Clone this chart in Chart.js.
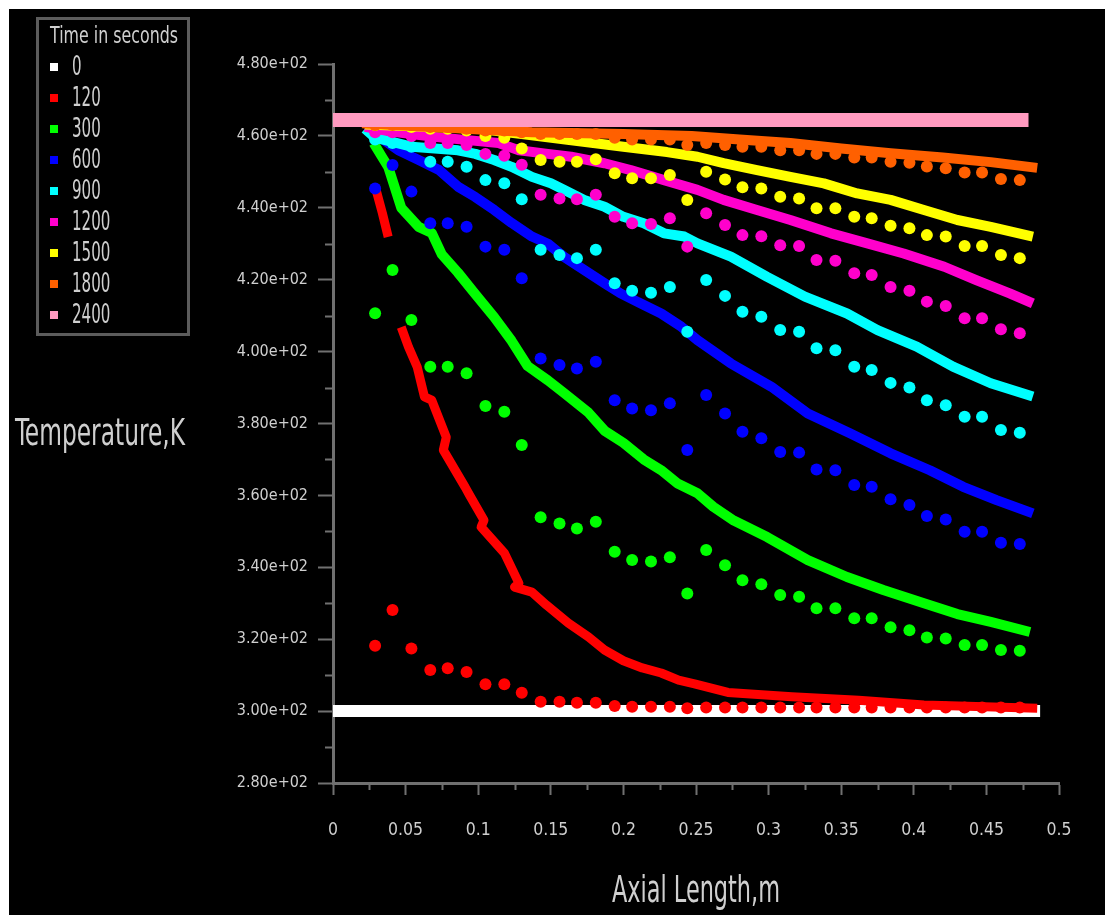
<!DOCTYPE html>
<html><head><meta charset="utf-8">
<script src="https://cdn.jsdelivr.net/npm/chart.js@4.4.1/dist/chart.umd.min.js"></script>
<style>
html,body{margin:0;padding:0;background:#fff;}
#wrap{position:absolute;left:9px;top:9px;width:1096px;height:906px;background:#000;}
canvas{display:block;}
</style></head><body>
<div id="wrap"><canvas id="c" width="1096" height="906"></canvas></div>
<script>
const timeLabels = ['0','120','300','600','900','1200','1500','1800','2400'];
const seriesColors = ['#ffffff','#ff0000','#00ff00','#0000ff','#00ffff','#ff00cc','#ffff00','#ff6000','#ff9ac0'];
const xTickLabels = ['0','0.05','0.1','0.15','0.2','0.25','0.3','0.35','0.4','0.45','0.5'];
const yTickLabels = ['2.80e+02','3.00e+02','3.20e+02','3.40e+02','3.60e+02','3.80e+02','4.00e+02','4.20e+02','4.40e+02','4.60e+02','4.80e+02'];

// sparse (dotted) branch: shared axial positions
const sparseX = [0.029,0.041,0.054,0.067,0.079,0.092,0.105,0.118,0.130,0.143,0.156,0.168,0.181,0.194,0.206,0.219,0.232,0.244,0.257,0.270,0.282,0.295,0.308,0.321,0.333,0.346,0.359,0.371,0.384,0.397,0.409,0.422,0.435,0.447,0.460,0.473];
const sparse120 = [318.2,328.1,317.4,311.4,311.9,310.9,307.5,307.5,305.1,302.6,302.6,302.3,302.3,301.4,301.2,301.2,301.2,300.8,301,301,301,301,301,301,301,301,301,301,301,301,301,301,301,301,301,301];
const sparse300 = [410.7,422.7,408.8,395.8,395.8,394,384.9,383.3,374,353.9,352.2,350.8,352.7,344.3,342,341.6,342.8,332.7,344.8,340.6,336.4,335.3,332.3,331.8,328.6,328.6,325.8,325.8,323.3,322.5,320.5,320.2,318.4,318.4,317,316.8];
const sparse600 = [445.4,451.9,444.5,435.7,435.7,434.7,429.2,428.3,420.4,398.1,396.3,395.3,397.2,386.5,384.2,383.7,385.6,372.6,387.9,382.8,377.7,375.9,372.1,371.9,367.2,367,362.9,362.4,358.9,357.3,354.3,353.3,349.9,349.9,346.8,346.5];
const sparse900 = [459,458,457,452.8,452.8,451.4,447.7,446.8,442.4,428.3,426.9,426,428.3,419,416.9,416.4,418,405.5,419.9,415.5,411.1,409.7,406,405.5,400.9,400.4,395.8,394.9,391.3,390,386.5,385.1,381.9,381.9,378.2,377.4];
const sparse1200 = [461,461,460,458,458,457.5,455,454.5,452,443.6,442.6,442.4,443.6,437.5,435.7,435.5,437.1,429.2,438.5,435.2,432.4,432.1,429.6,429.4,425.5,425.3,421.8,421.3,418,416.9,413.9,412.7,409.3,409.3,406.2,405.1];
const sparse1500 = [463,463,462.5,462,462,461.5,460,459.5,456.5,453.3,452.8,452.8,453.5,449.6,448.2,448.2,449.1,442.2,450,447.9,445.7,445.4,443.1,442.6,439.9,439.9,437.5,437.1,435,434.3,432.4,432,429.4,429.4,426.9,426];
const sparse1800 = [463,463,463,462.5,462.5,462,461.5,461.5,461,460.5,460.5,460.5,460.5,459.5,459,459,459,457.5,458,457.5,457,457,456,456,455,455,454,454,452.8,452.5,451.5,451,449.8,449.8,448,447.7];

// dense (band) branch: [axial length, temperature]
const dense0 = [[0,300],[0.487,300]];
const dense120 = [[0.029,446],[0.034,438.5],[0.038,431.9],[0.042,null],[0.047,406.8],[0.052,401.3],[0.058,395.7],[0.063,387.4],[0.068,386.5],[0.078,376.2],[0.076,372.6],[0.091,362.3],[0.094,360.1],[0.104,353.1],[0.102,351.2],[0.118,344],[0.128,335.6],[0.125,334.5],[0.137,333.1],[0.147,329.5],[0.162,324.5],[0.176,320.6],[0.187,317],[0.200,314],[0.213,312],[0.226,310.6],[0.238,308.6],[0.249,307.6],[0.272,305.2],[0.316,304],[0.362,303],[0.407,301.7],[0.485,300.8]];
const dense300 = [[0.028,458],[0.034,454],[0.038,451.4],[0.047,440],[0.059,434.7],[0.068,433],[0.075,427],[0.086,422],[0.098,416],[0.111,409.6],[0.123,403],[0.134,396],[0.148,392],[0.159,388.5],[0.176,383],[0.187,378],[0.200,374.6],[0.214,370],[0.226,367],[0.237,363.4],[0.251,360.6],[0.262,356.8],[0.276,353],[0.299,348.4],[0.327,342],[0.354,337.3],[0.379,333.7],[0.407,330],[0.430,327],[0.453,324.8],[0.480,322]];
const dense600 = [[0.024,462.5],[0.031,460],[0.045,456],[0.059,453.3],[0.073,450.5],[0.086,445.9],[0.098,443],[0.111,439.4],[0.123,435.8],[0.137,432],[0.148,430],[0.159,426.4],[0.173,422.7],[0.187,419],[0.198,416.2],[0.212,413.4],[0.226,410.6],[0.240,406.9],[0.251,403.2],[0.274,396.7],[0.302,390.2],[0.327,382.8],[0.356,377.3],[0.384,371.7],[0.411,367],[0.434,362.4],[0.457,358.7],[0.482,355]];
const dense900 = [[0.022,462],[0.029,459.5],[0.054,457],[0.086,456],[0.098,455],[0.111,453.3],[0.123,451.4],[0.137,448.6],[0.150,446.8],[0.159,445],[0.173,442.2],[0.187,440.3],[0.200,437.5],[0.214,435.7],[0.228,432.9],[0.242,432],[0.251,430.1],[0.274,426.4],[0.299,420.8],[0.325,415.3],[0.354,410.6],[0.375,406],[0.402,401.4],[0.427,395.8],[0.453,391.2],[0.482,387.5]];
const dense1200 = [[0.022,462.5],[0.040,461.2],[0.068,459.8],[0.091,458.9],[0.114,458],[0.128,456],[0.148,455],[0.164,454.2],[0.187,452.4],[0.205,450.5],[0.228,447.7],[0.251,445],[0.269,442.2],[0.292,439.4],[0.315,436.6],[0.343,432.9],[0.368,430.1],[0.393,427.3],[0.421,423.6],[0.443,419.9],[0.466,416.2],[0.482,413.4]];
const dense1500 = [[0.022,463.2],[0.100,462],[0.130,460.5],[0.160,459],[0.200,457],[0.230,455.5],[0.251,454.2],[0.269,452.4],[0.292,450.5],[0.315,448.6],[0.338,446.8],[0.361,444],[0.384,442.2],[0.407,439.4],[0.430,436.6],[0.453,434.7],[0.482,432]];
const dense1800 = [[0.020,463.5],[0.137,461],[0.200,460.5],[0.247,460],[0.280,459],[0.315,458],[0.350,456.5],[0.384,455.2],[0.420,454],[0.453,452.7],[0.485,451.1]];
const dense2400 = [[0,464.4],[0.479,464.4]];

const FONT = "'DejaVu Sans Condensed','DejaVu Sans',sans-serif";
const TEXT = '#cfcfcf';
const AXIS = '#707070';

const denseSets = [dense0,dense120,dense300,dense600,dense900,dense1200,dense1500,dense1800,dense2400];
const sparseSets = [null,sparse120,sparse300,sparse600,sparse900,sparse1200,sparse1500,sparse1800,null];
const bandWidths = [12,9,10,10,10,10,10,10,14];

const datasets = [];
denseSets.forEach((d,i)=>{
  const c = seriesColors[i];
  datasets.push({label: timeLabels[i], data: d.map(p=>({x:p[0],y:p[1]})), showLine:true,
    borderColor:c, backgroundColor:c, borderWidth:bandWidths[i], pointRadius:0,
    borderJoinStyle:'round', order: 100 - 2*i});
  if (sparseSets[i]) {
    datasets.push({label: timeLabels[i] + ' dots', data: sparseX.map((x,k)=>({x:x,y:sparseSets[i][k]})),
      showLine:false, pointRadius:6, pointStyle:'circle', backgroundColor:c, borderColor:c,
      borderWidth:0, order: 99 - 2*i});
  }
});

// draws a text horizontally compressed to a target width (or by a factor)
function narrowText(ctx, text, x, y, size, opts) {
  ctx.font = size + 'px ' + FONT;
  const w = ctx.measureText(text).width;
  const sx = opts.width ? opts.width / w : (opts.sx || 1);
  ctx.save();
  ctx.translate(x, y); ctx.scale(sx, 1);
  ctx.textAlign = opts.align || 'left'; ctx.textBaseline = 'middle';
  ctx.fillText(text, 0, 0);
  ctx.restore();
}

const decor = {
  id:'decor',
  afterDraw(chart){
    const ctx = chart.ctx, xs = chart.scales.x, ys = chart.scales.y;
    ctx.save();
    // minor ticks
    ctx.strokeStyle = AXIS; ctx.lineWidth = 2;
    for (let v = 290; v < 480; v += 20) {
      const py = Math.round(ys.getPixelForValue(v)) + 0.5;
      ctx.beginPath(); ctx.moveTo(xs.left - 8, py); ctx.lineTo(xs.left, py); ctx.stroke();
    }
    for (let k = 0; k < 10; k++) {
      const px = Math.round(xs.getPixelForValue(0.025 + k*0.05)) + 0.5;
      ctx.beginPath(); ctx.moveTo(px, ys.bottom); ctx.lineTo(px, ys.bottom + 7); ctx.stroke();
    }
    ctx.fillStyle = TEXT;
    // axis titles
    narrowText(ctx, 'Temperature,K', 6, 426, 38, {width:170, align:'left'});
    narrowText(ctx, 'Axial Length,m', (xs.left + xs.right) / 2, 883, 38, {width:168, align:'center'});
    // legend
    ctx.strokeStyle = '#5c5c5c'; ctx.lineWidth = 3;
    ctx.strokeRect(28.5, 9.5, 151, 316);
    ctx.fillStyle = TEXT;
    narrowText(ctx, 'Time in seconds', 41, 28.5, 23, {width:128});
    timeLabels.forEach((t,i)=>{
      const y = 58 + i*31;
      ctx.fillStyle = seriesColors[i];
      ctx.fillRect(41, y-4, 8, 8);
      ctx.fillStyle = TEXT;
      narrowText(ctx, t, 63, y + 1, 27, {sx:0.62});
    });
    ctx.restore();
  }
};

new Chart(document.getElementById('c'), {
  type:'scatter',
  data:{datasets},
  options:{
    responsive:false, animation:false, devicePixelRatio:1,
    layout:{padding:{top:55,right:46,bottom:0,left:0}},
    plugins:{legend:{display:false}, tooltip:{enabled:false}},
    scales:{
      x:{type:'linear', min:0, max:0.5,
        ticks:{stepSize:0.05, autoSkip:false, maxRotation:0, padding:25, color:TEXT,
          font:{family:FONT,size:17.5},
          callback:(v)=>xTickLabels[Math.round(v/0.05)]},
        grid:{drawOnChartArea:false, drawTicks:true, tickLength:12, tickColor:AXIS, tickWidth:2},
        border:{color:AXIS, width:3},
        title:{display:false},
        afterFit:(s)=>{s.height = 132;}
      },
      y:{type:'linear', min:280, max:480,
        ticks:{stepSize:20, padding:10, color:TEXT, font:{family:FONT,size:16},
          callback:(v)=>yTickLabels[Math.round((v-280)/20)]},
        grid:{drawOnChartArea:false, drawTicks:true, tickLength:15, tickColor:AXIS, tickWidth:2},
        border:{color:AXIS, width:3},
        afterFit:(s)=>{s.width = 324;}
      }
    }
  },
  plugins:[decor]
});
</script>
</body></html>
